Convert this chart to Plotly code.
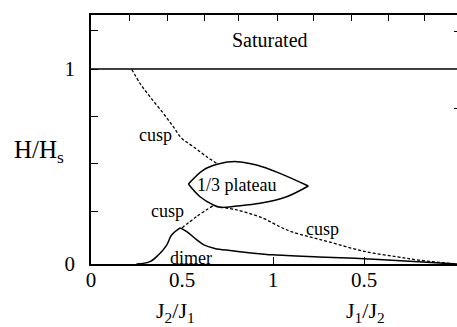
import plotly.graph_objects as go

# ---- data ----
sat_x = [0.0, 2.011]
sat_y = [1.0, 1.0]

cusp_upper_x = [0.224, 0.269, 0.324, 0.397, 0.452, 0.498, 0.562, 0.636, 0.691]
cusp_upper_y = [0.998, 0.927, 0.858, 0.773, 0.704, 0.645, 0.602, 0.550, 0.516]

cusp_mid_x = [0.50, 0.58, 0.672]
cusp_mid_y = [0.185, 0.243, 0.300]

cusp_right_x = [0.709, 0.80, 0.947, 1.04, 1.10, 1.20, 1.313, 1.50, 1.68, 1.80, 2.011]
cusp_right_y = [0.291, 0.278, 0.234, 0.19, 0.166, 0.14, 0.112, 0.065, 0.037, 0.02, 0.0]

plateau_top_x = [0.535, 0.617, 0.699, 0.80, 0.91, 1.038, 1.194]
plateau_top_y = [0.410, 0.482, 0.513, 0.525, 0.508, 0.465, 0.40]
plateau_bot_x = [0.535, 0.599, 0.672, 0.709, 0.80, 0.929, 1.075, 1.194]
plateau_bot_y = [0.410, 0.345, 0.303, 0.291, 0.297, 0.311, 0.345, 0.40]

dimer_rise_x = [0.25, 0.324, 0.37, 0.416, 0.443, 0.49]
dimer_rise_y = [0.0, 0.012, 0.046, 0.097, 0.149, 0.185]
dimer_fall_x = [0.49, 0.526, 0.58, 0.62, 0.68, 0.764, 0.88, 1.0, 1.25, 1.5, 1.75, 2.011]
dimer_fall_y = [0.185, 0.166, 0.125, 0.098, 0.08, 0.069, 0.057, 0.047, 0.036, 0.027, 0.014, 0.0]

x_labelvals = [0, 0.5, 1, 1.5]
x_labeltext = ["0", "0.5", "1", "0.5"]
bottom_tickvals = [1, 1.5]
top_tickvals = [0.209, 0.418, 0.621, 0.813, 1.022, 1.225, 1.429, 1.637, 1.835]
y_tickvals = [0, 0.267, 0.513, 0.754, 1.0, 1.2]
y_ticktext = ["0", "", "", "", "1", ""]
right_tickvals = [0.80, 1.19]

labels = [
    ("Saturated", 0.983, 1.149, 20),
    ("cusp", 0.355, 0.662, 18),
    ("cusp", 0.423, 0.273, 18),
    ("cusp", 1.27, 0.18, 18),
    ("1/3 plateau", 0.80, 0.405, 18),
    ("dimer", 0.549, 0.030, 18),
]

FONT = "Liberation Serif"
XR = [0, 2.011]
YR = [0, 1.277]

fig = go.Figure()
solid = dict(color="black", width=1.5)
dashed = dict(color="black", width=1.3, dash="3px,2px")

fig.add_trace(go.Scatter(x=sat_x, y=sat_y, mode="lines", line=solid))
fig.add_trace(go.Scatter(x=cusp_upper_x, y=cusp_upper_y, mode="lines",
                         line=dict(dashed, shape="spline")))
fig.add_trace(go.Scatter(x=cusp_mid_x, y=cusp_mid_y, mode="lines",
                         line=dict(dashed, shape="spline")))
fig.add_trace(go.Scatter(x=cusp_right_x, y=cusp_right_y, mode="lines",
                         line=dict(dashed, shape="spline")))
fig.add_trace(go.Scatter(x=plateau_top_x, y=plateau_top_y, mode="lines",
                         line=dict(solid, shape="spline")))
fig.add_trace(go.Scatter(x=plateau_bot_x, y=plateau_bot_y, mode="lines",
                         line=dict(solid, shape="spline")))
fig.add_trace(go.Scatter(x=dimer_rise_x, y=dimer_rise_y, mode="lines",
                         line=dict(solid, shape="spline")))
fig.add_trace(go.Scatter(x=dimer_fall_x, y=dimer_fall_y, mode="lines",
                         line=dict(solid, shape="spline")))
# invisible traces to anchor the extra tick axes
fig.add_trace(go.Scatter(x=[None], y=[None], xaxis="x2", yaxis="y2",
                         mode="lines", showlegend=False))
fig.add_trace(go.Scatter(x=[None], y=[None], xaxis="x3", yaxis="y",
                         mode="lines", showlegend=False))

for text, x, y, size in labels:
    fig.add_annotation(x=x, y=y, text=text, showarrow=False,
                       xanchor="center", yanchor="middle",
                       font=dict(family=FONT, size=size, color="black"))

fig.add_annotation(x=-0.142, y=0.45, xref="paper", yref="paper",
                   xanchor="center", yanchor="middle",
                   text="H/H<sub>s</sub>", showarrow=False,
                   font=dict(family=FONT, size=25, color="black"))
fig.add_annotation(x=0.232, y=-0.192, xref="paper", yref="paper",
                   xanchor="center", yanchor="middle",
                   text="J<sub>2</sub>/J<sub>1</sub>", showarrow=False,
                   font=dict(family=FONT, size=22, color="black"))
fig.add_annotation(x=0.749, y=-0.192, xref="paper", yref="paper",
                   xanchor="center", yanchor="middle",
                   text="J<sub>1</sub>/J<sub>2</sub>", showarrow=False,
                   font=dict(family=FONT, size=22, color="black"))

axis_common = dict(showgrid=False, zeroline=False, linecolor="black",
                   tickcolor="black", tickwidth=1.2)
fig.update_layout(
    width=457, height=327,
    margin=dict(l=91, r=0, t=15, b=63),
    paper_bgcolor="white", plot_bgcolor="white",
    showlegend=False,
    font=dict(family=FONT, color="black"),
    xaxis=dict(axis_common, range=XR, showline=True, linewidth=1.5,
               ticks="inside", ticklen=0, tickvals=x_labelvals,
               ticktext=x_labeltext,
               tickfont=dict(family=FONT, size=21, color="black"),
               ticklabelstandoff=-4),
    xaxis2=dict(axis_common, range=XR, overlaying="x", side="top",
                showline=True, linewidth=1.5, ticks="inside", ticklen=6,
                tickvals=top_tickvals, showticklabels=False),
    xaxis3=dict(axis_common, range=XR, overlaying="x", side="bottom",
                showline=False, ticks="inside", ticklen=7,
                tickvals=bottom_tickvals, showticklabels=False),
    yaxis=dict(axis_common, range=YR, showline=True, linewidth=1.5,
               ticks="inside", ticklen=7, tickvals=y_tickvals,
               ticktext=y_ticktext,
               tickfont=dict(family=FONT, size=21, color="black"),
               ticklabelstandoff=10),
    yaxis2=dict(axis_common, range=YR, overlaying="y", side="right",
                showline=False, ticks="inside", ticklen=3,
                tickvals=right_tickvals, showticklabels=False),
)

fig.write_html("out.html")
